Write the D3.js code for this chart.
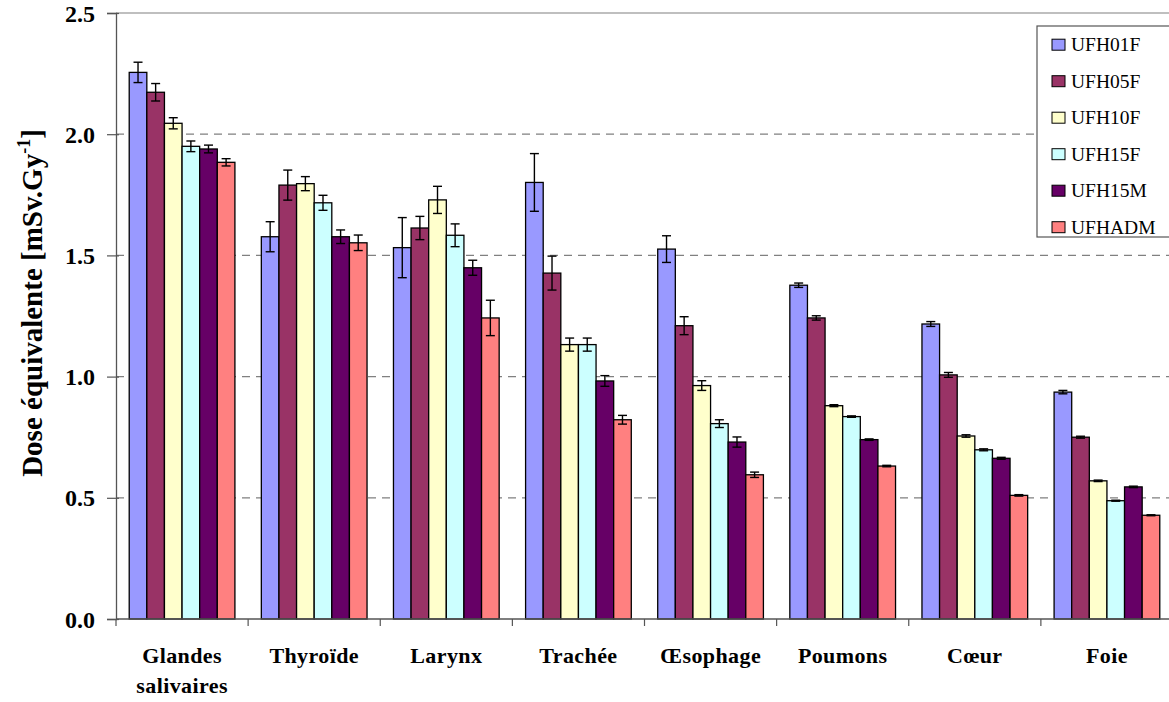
<!DOCTYPE html>
<html>
<head>
<meta charset="utf-8">
<script src="https://cdn.jsdelivr.net/npm/d3@7"></script>
<style>
  html, body { margin: 0; padding: 0; background: #fff; }
  svg { display: block; }
</style>
</head>
<body>
<svg id="chart" width="1169" height="702"></svg>
<script>
// Organs (x categories)
const organs = ["Glandes\nsalivaires", "Thyroïde", "Larynx", "Trachée", "Œsophage", "Poumons", "Cœur", "Foie"];
// Phantoms (series)
const phantoms = ["UFH01F", "UFH05F", "UFH10F", "UFH15F", "UFH15M", "UFHADM"];
const colors = ["#9999FF", "#993366", "#FFFFCC", "#CCFFFF", "#660066", "#FF8080"];

// Equivalent dose per organ, one array per phantom (mSv.Gy-1)
const UFH01F = [2.255, 1.577, 1.532, 1.801, 1.526, 1.377, 1.217, 0.936];
const UFH05F = [2.173, 1.790, 1.613, 1.427, 1.210, 1.242, 1.007, 0.750];
const UFH10F = [2.045, 1.796, 1.729, 1.132, 0.963, 0.880, 0.755, 0.570];
const UFH15F = [1.950, 1.717, 1.583, 1.132, 0.806, 0.835, 0.698, 0.488];
const UFH15M = [1.939, 1.577, 1.449, 0.982, 0.730, 0.740, 0.663, 0.545];
const UFHADM = [1.884, 1.552, 1.242, 0.822, 0.595, 0.631, 0.510, 0.428];

// Uncertainties (±)
const errUFH01F = [0.042, 0.062, 0.124, 0.119, 0.055, 0.009, 0.010, 0.007];
const errUFH05F = [0.036, 0.062, 0.048, 0.070, 0.037, 0.009, 0.010, 0.004];
const errUFH10F = [0.023, 0.029, 0.056, 0.027, 0.020, 0.004, 0.005, 0.003];
const errUFH15F = [0.022, 0.031, 0.047, 0.027, 0.016, 0.003, 0.004, 0.002];
const errUFH15M = [0.016, 0.028, 0.031, 0.022, 0.021, 0.003, 0.004, 0.003];
const errUFHADM = [0.015, 0.032, 0.073, 0.018, 0.011, 0.003, 0.003, 0.002];

const yTicks = [0, 0.5, 1.0, 1.5, 2.0, 2.5];

const values = [UFH01F, UFH05F, UFH10F, UFH15F, UFH15M, UFHADM];
const errors = [errUFH01F, errUFH05F, errUFH10F, errUFH15F, errUFH15M, errUFHADM];

const FONT = "Liberation Serif";

const svg = d3.select("#chart");
const plotLeft = 116, plotRight = 1173, plotTop = 13, plotBottom = 619;

const x = d3.scaleBand().domain(organs).range([plotLeft, plotRight]).paddingInner(0).paddingOuter(0);
const xs = d3.scaleBand().domain(phantoms).range([0, x.bandwidth()]).paddingInner(0).paddingOuter(0.75);
const y = d3.scaleLinear().domain([0, 2.5]).range([plotBottom, plotTop]);

// Dashed gridlines
svg.append("g").selectAll("line")
  .data(yTicks.filter(t => t > 0 && t < 2.5))
  .join("line")
  .attr("x1", plotLeft).attr("x2", plotRight)
  .attr("y1", d => y(d)).attr("y2", d => y(d))
  .attr("stroke", "#808080").attr("stroke-width", 1.2)
  .attr("stroke-dasharray", "8,6");

// Top border of plot area
svg.append("line")
  .attr("x1", plotLeft).attr("x2", plotRight)
  .attr("y1", plotTop).attr("y2", plotTop)
  .attr("stroke", "#808080").attr("stroke-width", 1.2);

// Bars
const rows = [];
organs.forEach((o, i) => {
  phantoms.forEach((p, j) => {
    rows.push({ organ: o, phantom: p, v: values[j][i], e: errors[j][i], c: colors[j] });
  });
});

svg.append("g").selectAll("rect")
  .data(rows)
  .join("rect")
  .attr("x", d => x(d.organ) + xs(d.phantom))
  .attr("y", d => y(d.v))
  .attr("width", xs.bandwidth())
  .attr("height", d => y(0) - y(d.v))
  .attr("fill", d => d.c)
  .attr("stroke", "#000").attr("stroke-width", 1.3);

// Error bars
const eg = svg.append("g").attr("stroke", "#000").attr("stroke-width", 1.4);
rows.forEach(d => {
  const cx = x(d.organ) + xs(d.phantom) + xs.bandwidth() / 2;
  const y1 = y(d.v + d.e), y2 = y(d.v - d.e);
  eg.append("line").attr("x1", cx).attr("x2", cx).attr("y1", y1).attr("y2", y2);
  eg.append("line").attr("x1", cx - 4.5).attr("x2", cx + 4.5).attr("y1", y1).attr("y2", y1);
  eg.append("line").attr("x1", cx - 4.5).attr("x2", cx + 4.5).attr("y1", y2).attr("y2", y2);
});

// Y axis (cross tick marks)
const yAxis = d3.axisLeft(y).tickValues(yTicks).tickFormat(d3.format(".1f")).tickSize(9).tickPadding(12);
const gy = svg.append("g").attr("transform", `translate(${plotLeft},0)`).call(yAxis);
gy.select(".domain").attr("stroke", "#555").attr("stroke-width", 1.3);
gy.selectAll(".tick line").attr("stroke", "#555").attr("stroke-width", 1.2).attr("x2", -9).attr("x1", 3);
gy.selectAll(".tick text")
  .style("font-family", FONT).style("font-weight", "bold").style("font-size", "24px")
  .attr("fill", "#000").attr("dy", "0.34em");

// X axis: ticks at category boundaries
svg.append("line")
  .attr("x1", plotLeft).attr("x2", plotRight).attr("y1", plotBottom).attr("y2", plotBottom)
  .attr("stroke", "#555").attr("stroke-width", 1.3);
svg.append("g").selectAll("line")
  .data(organs)
  .join("line")
  .attr("x1", d => x(d)).attr("x2", d => x(d))
  .attr("y1", plotBottom).attr("y2", plotBottom + 7)
  .attr("stroke", "#555").attr("stroke-width", 1.2);

// Category labels
const lab = svg.append("g").selectAll("text")
  .data(organs)
  .join("text")
  .attr("x", d => x(d) + x.bandwidth() / 2)
  .attr("y", 663)
  .attr("text-anchor", "middle")
  .style("font-family", FONT).style("font-weight", "bold").style("font-size", "22px")
  .style("letter-spacing", "0.4px")
  .attr("fill", "#000");
lab.each(function(d) {
  const parts = d.split("\n");
  const t = d3.select(this);
  parts.forEach((p, k) => {
    t.append("tspan").attr("x", x(d) + x.bandwidth() / 2).attr("dy", k === 0 ? 0 : 30).text(p);
  });
});

// Y axis title
const yt = svg.append("text")
  .attr("transform", "translate(42,303) rotate(-90)")
  .attr("text-anchor", "middle")
  .style("font-family", FONT).style("font-weight", "bold").style("font-size", "29px")
  .attr("fill", "#000");
yt.append("tspan").text("Dose équivalente [mSv.Gy");
yt.append("tspan").style("font-size", "18px").attr("dy", -12).text("-1");
yt.append("tspan").attr("dy", 12).text("]");

// Legend
const lg = svg.append("g");
lg.append("rect")
  .attr("x", 1037).attr("y", 26).attr("width", 150).attr("height", 211)
  .attr("fill", "#fff").attr("stroke", "#555").attr("stroke-width", 1.2);
phantoms.forEach((p, j) => {
  const cy = 44.7 + j * 36.5;
  lg.append("rect").attr("x", 1052).attr("y", cy - 5.5).attr("width", 13).attr("height", 11)
    .attr("fill", colors[j]).attr("stroke", "#000").attr("stroke-width", 1);
  lg.append("text").attr("x", 1071).attr("y", cy + 6.5)
    .style("font-family", FONT).style("font-size", "19.5px")
    .attr("fill", "#000").text(p);
});
</script>
</body>
</html>
